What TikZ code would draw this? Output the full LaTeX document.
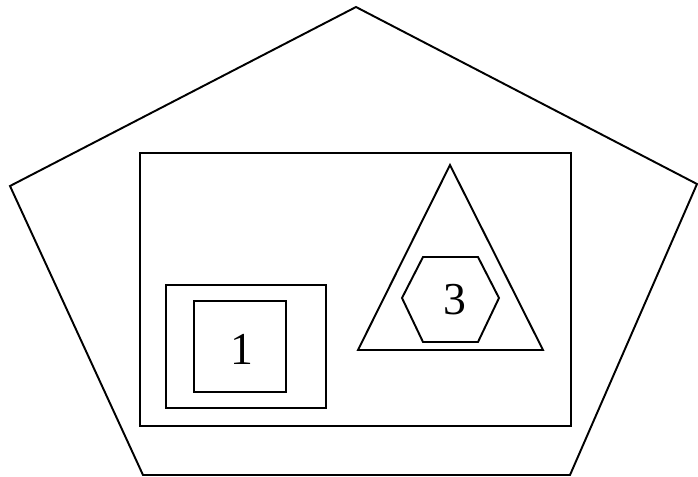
\documentclass[tikz,border=0pt]{standalone}
\usepackage{fontspec}
\setmainfont{Liberation Serif}

\begin{document}
\begin{tikzpicture}[x=0.02cm,y=-0.02cm,line width=1.1pt,line join=miter]
    \useasboundingbox (0,0) rectangle (698,477);
    % outer pentagon
    \draw (356,7) -- (697,184) -- (570,475) -- (143,475) -- (10,186) -- cycle;
    \draw (140,153) rectangle (571,426);
    % left group
    \draw (166,285) rectangle (326,408);
    \draw (194,301) rectangle (286,392);
    \node[font=\fontsize{26}{30}\selectfont] (one) at (242,349) {1};
    % right group
    \draw (450,165) -- (543,350) -- (358,350) -- cycle;
    \draw (402,298) -- (423,257) -- (478,257) -- (499,298) -- (478,342) -- (423,342) -- cycle;
    \node[font=\fontsize{26}{30}\selectfont] (three) at (455,300) {3};
\end{tikzpicture}
\end{document}
